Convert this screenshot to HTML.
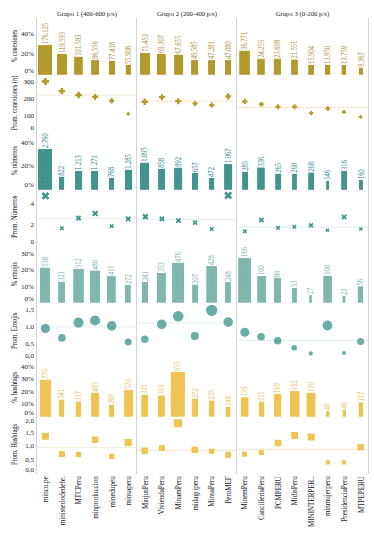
<!DOCTYPE html>
<html><head><meta charset="utf-8"><style>
html,body{margin:0;padding:0;background:#fff;width:374px;height:538px;overflow:hidden}
svg{display:block;font-family:'Liberation Serif', serif}
.tx{fill:#1a1a2c}
.tx2{fill:#141428}
</style></head><body>
<svg width="374" height="538" viewBox="0 0 374 538">
<defs>
<pattern id="pg" width="4" height="4" patternUnits="userSpaceOnUse"><rect x="1" y="1" width="1" height="1" fill="#a08a28" opacity="0.5"/></pattern>
<pattern id="pt" width="5" height="5" patternUnits="userSpaceOnUse"><rect x="2" y="2" width="1" height="1" fill="#2f7f7a" opacity="0.6"/></pattern>
<pattern id="plt" width="5" height="5" patternUnits="userSpaceOnUse"><rect x="2" y="2" width="1" height="1" fill="#6a9fb0" opacity="0.6"/></pattern>
<pattern id="py" width="2.5" height="2.5" patternUnits="userSpaceOnUse" patternTransform="rotate(45)"><rect x="0" y="0" width="0.8" height="2.5" fill="#f2dc6a" opacity="0.35"/></pattern>
</defs>
<g stroke="#d4d4d4" stroke-width="1">
<line x1="36.5" y1="18" x2="36.5" y2="474"/>
<line x1="136.5" y1="18" x2="136.5" y2="474"/>
<line x1="236.5" y1="18" x2="236.5" y2="474"/>
<line x1="368.5" y1="18" x2="368.5" y2="474"/>
</g>
<text x="86.9" y="16.3" font-size="7" text-anchor="middle" textLength="60" lengthAdjust="spacingAndGlyphs" class="tx">Grupo 1 (400-600 p/s)</text>
<text x="186.9" y="16.3" font-size="7" text-anchor="middle" textLength="60" lengthAdjust="spacingAndGlyphs" class="tx">Grupo 2 (200-400 p/s)</text>
<text x="302.4" y="16.3" font-size="7" text-anchor="middle" textLength="53.5" lengthAdjust="spacingAndGlyphs" class="tx">Grupo 3 (0-200 p/s)</text>
<text transform="translate(17.3,46.0) rotate(-90)" font-size="8" text-anchor="middle" textLength="32.5" lengthAdjust="spacingAndGlyphs" class="tx2">% conexiones</text>
<text transform="translate(17.3,103.0) rotate(-90)" font-size="8" text-anchor="middle" textLength="54.5" lengthAdjust="spacingAndGlyphs" class="tx2">Prom. conexiones (π)</text>
<text transform="translate(17.3,160.5) rotate(-90)" font-size="8" text-anchor="middle" textLength="29.2" lengthAdjust="spacingAndGlyphs" class="tx2">% números</text>
<text transform="translate(17.3,216.8) rotate(-90)" font-size="8" text-anchor="middle" textLength="42.5" lengthAdjust="spacingAndGlyphs" class="tx2">Prom. Números</text>
<text transform="translate(17.3,274.1) rotate(-90)" font-size="8" text-anchor="middle" textLength="24.5" lengthAdjust="spacingAndGlyphs" class="tx2">% emojis</text>
<text transform="translate(17.3,330.7) rotate(-90)" font-size="8" text-anchor="middle" textLength="36.5" lengthAdjust="spacingAndGlyphs" class="tx2">Prom. Emojis</text>
<text transform="translate(17.3,387.4) rotate(-90)" font-size="8" text-anchor="middle" textLength="30.5" lengthAdjust="spacingAndGlyphs" class="tx2">% hashtags</text>
<text transform="translate(17.3,444.5) rotate(-90)" font-size="8" text-anchor="middle" textLength="41.2" lengthAdjust="spacingAndGlyphs" class="tx2">Prom. Hashtags</text>
<text x="33.9" y="36.3" font-size="7" text-anchor="end" class="tx">40%</text>
<text x="33.9" y="55.9" font-size="7" text-anchor="end" class="tx">20%</text>
<text x="33.9" y="73.3" font-size="7" text-anchor="end" class="tx">0%</text>
<text x="33.9" y="84.1" font-size="7" text-anchor="end" class="tx">300</text>
<text x="33.9" y="101.0" font-size="7" text-anchor="end" class="tx">200</text>
<text x="33.9" y="117.8" font-size="7" text-anchor="end" class="tx">100</text>
<text x="33.9" y="129.8" font-size="7" text-anchor="end" class="tx">0</text>
<text x="33.9" y="145.3" font-size="7" text-anchor="end" class="tx">40%</text>
<text x="33.9" y="168.4" font-size="7" text-anchor="end" class="tx">20%</text>
<text x="33.9" y="187.10000000000002" font-size="7" text-anchor="end" class="tx">0%</text>
<text x="33.9" y="206.3" font-size="7" text-anchor="end" class="tx">4</text>
<text x="33.9" y="227.10000000000002" font-size="7" text-anchor="end" class="tx">2</text>
<text x="33.9" y="243.8" font-size="7" text-anchor="end" class="tx">0</text>
<text x="33.9" y="256.3" font-size="7" text-anchor="end" class="tx">30%</text>
<text x="33.9" y="272.40000000000003" font-size="7" text-anchor="end" class="tx">20%</text>
<text x="33.9" y="288.7" font-size="7" text-anchor="end" class="tx">10%</text>
<text x="33.9" y="301.1" font-size="7" text-anchor="end" class="tx">0%</text>
<text x="33.9" y="312.3" font-size="7" text-anchor="end" class="tx">1,5</text>
<text x="33.9" y="329.0" font-size="7" text-anchor="end" class="tx">1,0</text>
<text x="33.9" y="345.7" font-size="7" text-anchor="end" class="tx">0,5</text>
<text x="33.9" y="357.8" font-size="7" text-anchor="end" class="tx">0,0</text>
<text x="33.9" y="368.7" font-size="7" text-anchor="end" class="tx">40%</text>
<text x="33.9" y="380.7" font-size="7" text-anchor="end" class="tx">30%</text>
<text x="33.9" y="393.7" font-size="7" text-anchor="end" class="tx">20%</text>
<text x="33.9" y="406.1" font-size="7" text-anchor="end" class="tx">10%</text>
<text x="33.9" y="415.1" font-size="7" text-anchor="end" class="tx">0%</text>
<text x="33.9" y="423.0" font-size="7" text-anchor="end" class="tx">2,0</text>
<text x="33.9" y="434.6" font-size="7" text-anchor="end" class="tx">1,5</text>
<text x="33.9" y="447.7" font-size="7" text-anchor="end" class="tx">1,0</text>
<text x="33.9" y="461.8" font-size="7" text-anchor="end" class="tx">0,5</text>
<text x="33.9" y="472.1" font-size="7" text-anchor="end" class="tx">0,0</text>
<rect x="38.0" y="45.1" width="14.00" height="29.70" fill="#b29a2c"/>
<rect x="38.0" y="45.1" width="14.00" height="29.70" fill="url(#pg)"/>
<text transform="translate(47.60,44.10) rotate(-90) scale(0.86,1)" font-size="7.6" fill="#ab9040" stroke="#ab9040" stroke-width="0.04">176.125</text>
<rect x="57.0" y="54.0" width="10.00" height="20.80" fill="#b29a2c"/>
<rect x="57.0" y="54.0" width="10.00" height="20.80" fill="url(#pg)"/>
<text transform="translate(64.60,53.00) rotate(-90) scale(0.86,1)" font-size="7.6" fill="#ab9040" stroke="#ab9040" stroke-width="0.04">119.593</text>
<rect x="74.1" y="56.8" width="8.70" height="18.00" fill="#b29a2c"/>
<rect x="74.1" y="56.8" width="8.70" height="18.00" fill="url(#pg)"/>
<text transform="translate(81.05,55.80) rotate(-90) scale(0.86,1)" font-size="7.6" fill="#ab9040" stroke="#ab9040" stroke-width="0.04">101.583</text>
<rect x="91.1" y="60.1" width="7.90" height="14.70" fill="#b29a2c"/>
<rect x="91.1" y="60.1" width="7.90" height="14.70" fill="url(#pg)"/>
<text transform="translate(97.65,59.10) rotate(-90) scale(0.86,1)" font-size="7.6" fill="#ab9040" stroke="#ab9040" stroke-width="0.04">86.556</text>
<rect x="109.0" y="61.0" width="6.00" height="13.80" fill="#b29a2c"/>
<rect x="109.0" y="61.0" width="6.00" height="13.80" fill="url(#pg)"/>
<text transform="translate(114.60,60.00) rotate(-90) scale(0.86,1)" font-size="7.6" fill="#ab9040" stroke="#ab9040" stroke-width="0.04">77.418</text>
<rect x="125.8" y="64.9" width="5.10" height="9.90" fill="#b29a2c"/>
<rect x="125.8" y="64.9" width="5.10" height="9.90" fill="url(#pg)"/>
<text transform="translate(130.95,63.90) rotate(-90) scale(0.86,1)" font-size="7.6" fill="#ab9040" stroke="#ab9040" stroke-width="0.04">55.908</text>
<rect x="140.0" y="53.0" width="10.00" height="21.80" fill="#b29a2c"/>
<rect x="140.0" y="53.0" width="10.00" height="21.80" fill="url(#pg)"/>
<text transform="translate(147.60,52.00) rotate(-90) scale(0.86,1)" font-size="7.6" fill="#ab9040" stroke="#ab9040" stroke-width="0.04">71.453</text>
<rect x="157.0" y="54.0" width="8.80" height="20.80" fill="#b29a2c"/>
<rect x="157.0" y="54.0" width="8.80" height="20.80" fill="url(#pg)"/>
<text transform="translate(164.00,53.00) rotate(-90) scale(0.86,1)" font-size="7.6" fill="#ab9040" stroke="#ab9040" stroke-width="0.04">69.307</text>
<rect x="174.1" y="54.8" width="9.00" height="20.00" fill="#b29a2c"/>
<rect x="174.1" y="54.8" width="9.00" height="20.00" fill="url(#pg)"/>
<text transform="translate(181.20,53.80) rotate(-90) scale(0.86,1)" font-size="7.6" fill="#ab9040" stroke="#ab9040" stroke-width="0.04">67.655</text>
<rect x="191.1" y="60.1" width="6.90" height="14.70" fill="#b29a2c"/>
<rect x="191.1" y="60.1" width="6.90" height="14.70" fill="url(#pg)"/>
<text transform="translate(197.15,59.10) rotate(-90) scale(0.86,1)" font-size="7.6" fill="#ab9040" stroke="#ab9040" stroke-width="0.04">49.585</text>
<rect x="208.1" y="60.1" width="6.90" height="14.70" fill="#b29a2c"/>
<rect x="208.1" y="60.1" width="6.90" height="14.70" fill="url(#pg)"/>
<text transform="translate(214.15,59.10) rotate(-90) scale(0.86,1)" font-size="7.6" fill="#ab9040" stroke="#ab9040" stroke-width="0.04">47.281</text>
<rect x="225.0" y="60.1" width="6.10" height="14.70" fill="#b29a2c"/>
<rect x="225.0" y="60.1" width="6.10" height="14.70" fill="url(#pg)"/>
<text transform="translate(230.65,59.10) rotate(-90) scale(0.86,1)" font-size="7.6" fill="#ab9040" stroke="#ab9040" stroke-width="0.04">47.080</text>
<rect x="239.2" y="50.8" width="10.60" height="24.00" fill="#b29a2c"/>
<rect x="239.2" y="50.8" width="10.60" height="24.00" fill="url(#pg)"/>
<text transform="translate(247.10,49.80) rotate(-90) scale(0.86,1)" font-size="7.6" fill="#ab9040" stroke="#ab9040" stroke-width="0.04">36.771</text>
<rect x="257.2" y="58.8" width="7.60" height="16.00" fill="#b29a2c"/>
<rect x="257.2" y="58.8" width="7.60" height="16.00" fill="url(#pg)"/>
<text transform="translate(263.60,57.80) rotate(-90) scale(0.86,1)" font-size="7.6" fill="#ab9040" stroke="#ab9040" stroke-width="0.04">24.255</text>
<rect x="273.9" y="58.8" width="7.10" height="16.00" fill="#b29a2c"/>
<rect x="273.9" y="58.8" width="7.10" height="16.00" fill="url(#pg)"/>
<text transform="translate(280.05,57.80) rotate(-90) scale(0.86,1)" font-size="7.6" fill="#ab9040" stroke="#ab9040" stroke-width="0.04">23.698</text>
<rect x="291.1" y="59.6" width="6.70" height="15.20" fill="#b29a2c"/>
<rect x="291.1" y="59.6" width="6.70" height="15.20" fill="url(#pg)"/>
<text transform="translate(297.05,58.60) rotate(-90) scale(0.86,1)" font-size="7.6" fill="#ab9040" stroke="#ab9040" stroke-width="0.04">21.551</text>
<rect x="308.2" y="64.9" width="5.80" height="9.90" fill="#b29a2c"/>
<rect x="308.2" y="64.9" width="5.80" height="9.90" fill="url(#pg)"/>
<text transform="translate(313.70,63.90) rotate(-90) scale(0.86,1)" font-size="7.6" fill="#ab9040" stroke="#ab9040" stroke-width="0.04">15.904</text>
<rect x="325.0" y="64.9" width="5.20" height="9.90" fill="#b29a2c"/>
<rect x="325.0" y="64.9" width="5.20" height="9.90" fill="url(#pg)"/>
<text transform="translate(330.20,63.90) rotate(-90) scale(0.86,1)" font-size="7.6" fill="#ab9040" stroke="#ab9040" stroke-width="0.04">13.950</text>
<rect x="341.7" y="64.9" width="4.40" height="9.90" fill="#b29a2c"/>
<rect x="341.7" y="64.9" width="4.40" height="9.90" fill="url(#pg)"/>
<text transform="translate(346.50,63.90) rotate(-90) scale(0.86,1)" font-size="7.6" fill="#ab9040" stroke="#ab9040" stroke-width="0.04">13.759</text>
<rect x="359.0" y="67.9" width="3.90" height="6.90" fill="#b29a2c"/>
<rect x="359.0" y="67.9" width="3.90" height="6.90" fill="url(#pg)"/>
<text transform="translate(363.55,66.90) rotate(-90) scale(0.86,1)" font-size="7.6" fill="#ab9040" stroke="#ab9040" stroke-width="0.04">9.367</text>
<line x1="37.6" y1="95.2" x2="135.9" y2="95.2" stroke="#e8e3c4" stroke-width="0.7"/>
<line x1="137.4" y1="101.2" x2="235.9" y2="101.2" stroke="#f0cc98" stroke-width="0.7" stroke-dasharray="3,1"/>
<line x1="237.4" y1="107.4" x2="367.9" y2="107.4" stroke="#f0cc98" stroke-width="0.7" stroke-dasharray="3,1"/>
<path d="M42.00,80.07h2.17v-2.17h2.66v2.17h2.17v2.66h-2.17v2.17h-2.66v-2.17h-2.17z" fill="#b29a2c"/>
<path d="M58.70,89.88h1.98v-1.98h2.43v1.98h1.98v2.43h-1.98v1.98h-2.43v-1.98h-1.98z" fill="#b29a2c"/>
<path d="M75.35,93.77h2.01v-2.01h2.47v2.01h2.01v2.47h-2.01v2.01h-2.47v-2.01h-2.01z" fill="#b29a2c"/>
<path d="M92.10,95.76h1.86v-1.86h2.28v1.86h1.86v2.28h-1.86v1.86h-2.28v-1.86h-1.86z" fill="#b29a2c"/>
<path d="M108.95,99.66h1.71v-1.71h2.09v1.71h1.71v2.09h-1.71v1.71h-2.09v-1.71h-1.71z" fill="#b29a2c"/>
<path d="M126.20,113.04h1.24v-1.24h1.52v1.24h1.24v1.52h-1.24v1.24h-1.52v-1.24h-1.24z" fill="#b29a2c"/>
<path d="M141.60,100.48h1.98v-1.98h2.43v1.98h1.98v2.43h-1.98v1.98h-2.43v-1.98h-1.98z" fill="#b29a2c"/>
<path d="M158.90,96.06h1.86v-1.86h2.28v1.86h1.86v2.28h-1.86v1.86h-2.28v-1.86h-1.86z" fill="#b29a2c"/>
<path d="M175.20,100.06h1.86v-1.86h2.28v1.86h1.86v2.28h-1.86v1.86h-2.28v-1.86h-1.86z" fill="#b29a2c"/>
<path d="M192.45,102.59h1.64v-1.64h2.01v1.64h1.64v2.01h-1.64v1.64h-2.01v-1.64h-1.64z" fill="#b29a2c"/>
<path d="M209.05,104.19h1.64v-1.64h2.01v1.64h1.64v2.01h-1.64v1.64h-2.01v-1.64h-1.64z" fill="#b29a2c"/>
<path d="M225.20,95.26h1.86v-1.86h2.28v1.86h1.86v2.28h-1.86v1.86h-2.28v-1.86h-1.86z" fill="#b29a2c"/>
<path d="M242.05,100.45h1.71v-1.71h2.09v1.71h1.71v2.09h-1.71v1.71h-2.09v-1.71h-1.71z" fill="#b29a2c"/>
<path d="M258.90,103.35h1.55v-1.55h1.90v1.55h1.55v1.90h-1.55v1.55h-1.90v-1.55h-1.55z" fill="#b29a2c"/>
<path d="M275.50,105.85h1.55v-1.55h1.90v1.55h1.55v1.90h-1.55v1.55h-1.90v-1.55h-1.55z" fill="#b29a2c"/>
<path d="M292.10,105.85h1.55v-1.55h1.90v1.55h1.55v1.90h-1.55v1.55h-1.90v-1.55h-1.55z" fill="#b29a2c"/>
<path d="M308.95,112.24h1.40v-1.40h1.71v1.40h1.40v1.71h-1.40v1.40h-1.71v-1.40h-1.40z" fill="#b29a2c"/>
<path d="M325.30,107.55h1.55v-1.55h1.90v1.55h1.55v1.90h-1.55v1.55h-1.90v-1.55h-1.55z" fill="#b29a2c"/>
<path d="M341.75,111.24h1.40v-1.40h1.71v1.40h1.40v1.71h-1.40v1.40h-1.71v-1.40h-1.40z" fill="#b29a2c"/>
<path d="M358.60,115.94h1.24v-1.24h1.52v1.24h1.24v1.52h-1.24v1.24h-1.52v-1.24h-1.24z" fill="#b29a2c"/>
<rect x="38.0" y="149.0" width="14.00" height="40.80" fill="#43948c"/>
<rect x="38.0" y="149.0" width="14.00" height="40.80" fill="url(#pt)"/>
<text transform="translate(47.60,148.00) rotate(-90) scale(0.86,1)" font-size="7.6" fill="#35888e" stroke="#35888e" stroke-width="0.04">2.760</text>
<rect x="59.0" y="176.8" width="5.10" height="13.00" fill="#43948c"/>
<rect x="59.0" y="176.8" width="5.10" height="13.00" fill="url(#pt)"/>
<text transform="translate(64.15,175.80) rotate(-90) scale(0.86,1)" font-size="7.6" fill="#35888e" stroke="#35888e" stroke-width="0.04">822</text>
<rect x="75.0" y="171.0" width="7.10" height="18.80" fill="#43948c"/>
<rect x="75.0" y="171.0" width="7.10" height="18.80" fill="url(#pt)"/>
<text transform="translate(81.15,170.00) rotate(-90) scale(0.86,1)" font-size="7.6" fill="#35888e" stroke="#35888e" stroke-width="0.04">1.213</text>
<rect x="91.1" y="171.0" width="6.90" height="18.80" fill="#43948c"/>
<rect x="91.1" y="171.0" width="6.90" height="18.80" fill="url(#pt)"/>
<text transform="translate(97.15,170.00) rotate(-90) scale(0.86,1)" font-size="7.6" fill="#35888e" stroke="#35888e" stroke-width="0.04">1.271</text>
<rect x="109.0" y="177.9" width="5.10" height="11.90" fill="#43948c"/>
<rect x="109.0" y="177.9" width="5.10" height="11.90" fill="url(#pt)"/>
<text transform="translate(114.15,176.90) rotate(-90) scale(0.86,1)" font-size="7.6" fill="#35888e" stroke="#35888e" stroke-width="0.04">768</text>
<rect x="125.0" y="169.8" width="7.10" height="20.00" fill="#43948c"/>
<rect x="125.0" y="169.8" width="7.10" height="20.00" fill="url(#pt)"/>
<text transform="translate(131.15,168.80) rotate(-90) scale(0.86,1)" font-size="7.6" fill="#35888e" stroke="#35888e" stroke-width="0.04">1.285</text>
<rect x="140.0" y="162.8" width="9.00" height="27.00" fill="#43948c"/>
<rect x="140.0" y="162.8" width="9.00" height="27.00" fill="url(#pt)"/>
<text transform="translate(147.10,161.80) rotate(-90) scale(0.86,1)" font-size="7.6" fill="#35888e" stroke="#35888e" stroke-width="0.04">1.095</text>
<rect x="158.1" y="168.8" width="6.90" height="21.00" fill="#43948c"/>
<rect x="158.1" y="168.8" width="6.90" height="21.00" fill="url(#pt)"/>
<text transform="translate(164.15,167.80) rotate(-90) scale(0.86,1)" font-size="7.6" fill="#35888e" stroke="#35888e" stroke-width="0.04">858</text>
<rect x="174.1" y="167.8" width="8.00" height="22.00" fill="#43948c"/>
<rect x="174.1" y="167.8" width="8.00" height="22.00" fill="url(#pt)"/>
<text transform="translate(180.70,166.80) rotate(-90) scale(0.86,1)" font-size="7.6" fill="#35888e" stroke="#35888e" stroke-width="0.04">892</text>
<rect x="192.0" y="173.0" width="6.00" height="16.80" fill="#43948c"/>
<rect x="192.0" y="173.0" width="6.00" height="16.80" fill="url(#pt)"/>
<text transform="translate(197.60,172.00) rotate(-90) scale(0.86,1)" font-size="7.6" fill="#35888e" stroke="#35888e" stroke-width="0.04">657</text>
<rect x="209.0" y="177.9" width="5.10" height="11.90" fill="#43948c"/>
<rect x="209.0" y="177.9" width="5.10" height="11.90" fill="url(#pt)"/>
<text transform="translate(214.15,176.90) rotate(-90) scale(0.86,1)" font-size="7.6" fill="#35888e" stroke="#35888e" stroke-width="0.04">472</text>
<rect x="224.1" y="164.1" width="8.00" height="25.70" fill="#43948c"/>
<rect x="224.1" y="164.1" width="8.00" height="25.70" fill="url(#pt)"/>
<text transform="translate(230.70,163.10) rotate(-90) scale(0.86,1)" font-size="7.6" fill="#35888e" stroke="#35888e" stroke-width="0.04">1.067</text>
<rect x="242.2" y="171.8" width="5.80" height="18.00" fill="#43948c"/>
<rect x="242.2" y="171.8" width="5.80" height="18.00" fill="url(#pt)"/>
<text transform="translate(247.70,170.80) rotate(-90) scale(0.86,1)" font-size="7.6" fill="#35888e" stroke="#35888e" stroke-width="0.04">285</text>
<rect x="257.2" y="167.6" width="7.60" height="22.20" fill="#43948c"/>
<rect x="257.2" y="167.6" width="7.60" height="22.20" fill="url(#pt)"/>
<text transform="translate(263.60,166.60) rotate(-90) scale(0.86,1)" font-size="7.6" fill="#35888e" stroke="#35888e" stroke-width="0.04">336</text>
<rect x="275.2" y="173.8" width="5.80" height="16.00" fill="#43948c"/>
<rect x="275.2" y="173.8" width="5.80" height="16.00" fill="url(#pt)"/>
<text transform="translate(280.70,172.80) rotate(-90) scale(0.86,1)" font-size="7.6" fill="#35888e" stroke="#35888e" stroke-width="0.04">265</text>
<rect x="292.1" y="173.8" width="4.80" height="16.00" fill="#43948c"/>
<rect x="292.1" y="173.8" width="4.80" height="16.00" fill="url(#pt)"/>
<text transform="translate(297.10,172.80) rotate(-90) scale(0.86,1)" font-size="7.6" fill="#35888e" stroke="#35888e" stroke-width="0.04">260</text>
<rect x="308.2" y="172.7" width="5.80" height="17.10" fill="#43948c"/>
<rect x="308.2" y="172.7" width="5.80" height="17.10" fill="url(#pt)"/>
<text transform="translate(313.70,171.70) rotate(-90) scale(0.86,1)" font-size="7.6" fill="#35888e" stroke="#35888e" stroke-width="0.04">268</text>
<rect x="326.2" y="180.8" width="2.80" height="9.00" fill="#43948c"/>
<rect x="326.2" y="180.8" width="2.80" height="9.00" fill="url(#pt)"/>
<text transform="translate(330.20,179.80) rotate(-90) scale(0.86,1)" font-size="7.6" fill="#35888e" stroke="#35888e" stroke-width="0.04">146</text>
<rect x="341.2" y="170.9" width="5.80" height="18.90" fill="#43948c"/>
<rect x="341.2" y="170.9" width="5.80" height="18.90" fill="url(#pt)"/>
<text transform="translate(346.70,169.90) rotate(-90) scale(0.86,1)" font-size="7.6" fill="#35888e" stroke="#35888e" stroke-width="0.04">316</text>
<rect x="359.0" y="180.0" width="3.90" height="9.80" fill="#43948c"/>
<rect x="359.0" y="180.0" width="3.90" height="9.80" fill="url(#pt)"/>
<text transform="translate(363.55,179.00) rotate(-90) scale(0.86,1)" font-size="7.6" fill="#35888e" stroke="#35888e" stroke-width="0.04">160</text>
<line x1="37.6" y1="218.3" x2="135.9" y2="218.3" stroke="#bfe0dc" stroke-width="0.7" stroke-dasharray="2,1"/>
<line x1="137.4" y1="219.4" x2="235.9" y2="219.4" stroke="#bfe0dc" stroke-width="0.7" stroke-dasharray="2,1"/>
<line x1="237.4" y1="227.1" x2="367.9" y2="227.1" stroke="#c8e6e2" stroke-width="0.7"/>
<path transform="rotate(45 45.4 195.9)" d="M41.13,194.57h2.94v-2.94h2.66v2.94h2.94v2.66h-2.94v2.94h-2.66v-2.94h-2.94z" fill="#3f958f"/>
<path transform="rotate(45 61.9 228.2)" d="M59.46,227.44h1.68v-1.68h1.52v1.68h1.68v1.52h-1.68v1.68h-1.52v-1.68h-1.68z" fill="#3f958f"/>
<path transform="rotate(45 78.5 218.1)" d="M75.45,217.15h2.10v-2.10h1.90v2.10h2.10v1.90h-2.10v2.10h-1.90v-2.10h-2.10z" fill="#3f958f"/>
<path transform="rotate(45 95.1 213.5)" d="M91.74,212.46h2.31v-2.31h2.09v2.31h2.31v2.09h-2.31v2.31h-2.09v-2.31h-2.31z" fill="#3f958f"/>
<path transform="rotate(45 111.7 226.1)" d="M109.26,225.34h1.68v-1.68h1.52v1.68h1.68v1.52h-1.68v1.68h-1.52v-1.68h-1.68z" fill="#3f958f"/>
<path transform="rotate(45 128.2 218.9)" d="M125.15,217.95h2.10v-2.10h1.90v2.10h2.10v1.90h-2.10v2.10h-1.90v-2.10h-2.10z" fill="#3f958f"/>
<path transform="rotate(45 145.4 216.7)" d="M142.05,215.66h2.31v-2.31h2.09v2.31h2.31v2.09h-2.31v2.31h-2.09v-2.31h-2.31z" fill="#3f958f"/>
<path transform="rotate(45 161.9 218.9)" d="M158.85,217.95h2.10v-2.10h1.90v2.10h2.10v1.90h-2.10v2.10h-1.90v-2.10h-2.10z" fill="#3f958f"/>
<path transform="rotate(45 178.5 220.5)" d="M175.45,219.55h2.10v-2.10h1.90v2.10h2.10v1.90h-2.10v2.10h-1.90v-2.10h-2.10z" fill="#3f958f"/>
<path transform="rotate(45 195.1 222.6)" d="M192.35,221.75h1.89v-1.89h1.71v1.89h1.89v1.71h-1.89v1.89h-1.71v-1.89h-1.89z" fill="#3f958f"/>
<path transform="rotate(45 211.7 229.0)" d="M209.26,228.24h1.68v-1.68h1.52v1.68h1.68v1.52h-1.68v1.68h-1.52v-1.68h-1.68z" fill="#3f958f"/>
<path transform="rotate(45 228.2 195.3)" d="M223.93,193.97h2.94v-2.94h2.66v2.94h2.94v2.66h-2.94v2.94h-2.66v-2.94h-2.94z" fill="#3f958f"/>
<path transform="rotate(45 244.8 231.3)" d="M242.36,230.54h1.68v-1.68h1.52v1.68h1.68v1.52h-1.68v1.68h-1.52v-1.68h-1.68z" fill="#3f958f"/>
<path transform="rotate(45 261.4 220.0)" d="M258.35,219.05h2.10v-2.10h1.90v2.10h2.10v1.90h-2.10v2.10h-1.90v-2.10h-2.10z" fill="#3f958f"/>
<path transform="rotate(45 278.0 227.8)" d="M275.56,227.04h1.68v-1.68h1.52v1.68h1.68v1.52h-1.68v1.68h-1.52v-1.68h-1.68z" fill="#3f958f"/>
<path transform="rotate(45 294.4 226.8)" d="M291.96,226.04h1.68v-1.68h1.52v1.68h1.68v1.52h-1.68v1.68h-1.52v-1.68h-1.68z" fill="#3f958f"/>
<path transform="rotate(45 311.0 225.4)" d="M308.25,224.55h1.89v-1.89h1.71v1.89h1.89v1.71h-1.89v1.89h-1.71v-1.89h-1.89z" fill="#3f958f"/>
<path transform="rotate(45 327.5 230.3)" d="M325.37,229.64h1.47v-1.47h1.33v1.47h1.47v1.33h-1.47v1.47h-1.33v-1.47h-1.47z" fill="#3f958f"/>
<path transform="rotate(45 344.1 217.0)" d="M341.05,216.05h2.10v-2.10h1.90v2.10h2.10v1.90h-2.10v2.10h-1.90v-2.10h-2.10z" fill="#3f958f"/>
<path transform="rotate(45 360.8 228.9)" d="M358.67,228.24h1.47v-1.47h1.33v1.47h1.47v1.33h-1.47v1.47h-1.33v-1.47h-1.47z" fill="#3f958f"/>
<rect x="40.0" y="267.8" width="10.00" height="34.90" fill="#80b8ad"/>
<rect x="40.0" y="267.8" width="10.00" height="34.90" fill="url(#plt)"/>
<text transform="translate(47.60,266.80) rotate(-90) scale(0.86,1)" font-size="7.6" fill="#78b2b0" stroke="#78b2b0" stroke-width="0.04">538</text>
<rect x="58.1" y="281.8" width="6.90" height="20.90" fill="#80b8ad"/>
<rect x="58.1" y="281.8" width="6.90" height="20.90" fill="url(#plt)"/>
<text transform="translate(64.15,280.80) rotate(-90) scale(0.86,1)" font-size="7.6" fill="#78b2b0" stroke="#78b2b0" stroke-width="0.04">321</text>
<rect x="73.2" y="269.0" width="10.70" height="33.70" fill="#80b8ad"/>
<rect x="73.2" y="269.0" width="10.70" height="33.70" fill="url(#plt)"/>
<text transform="translate(81.15,268.00) rotate(-90) scale(0.86,1)" font-size="7.6" fill="#78b2b0" stroke="#78b2b0" stroke-width="0.04">512</text>
<rect x="90.0" y="270.7" width="10.00" height="32.00" fill="#80b8ad"/>
<rect x="90.0" y="270.7" width="10.00" height="32.00" fill="url(#plt)"/>
<text transform="translate(97.60,269.70) rotate(-90) scale(0.86,1)" font-size="7.6" fill="#78b2b0" stroke="#78b2b0" stroke-width="0.04">480</text>
<rect x="107.0" y="276.1" width="8.80" height="26.60" fill="#80b8ad"/>
<rect x="107.0" y="276.1" width="8.80" height="26.60" fill="url(#plt)"/>
<text transform="translate(114.00,275.10) rotate(-90) scale(0.86,1)" font-size="7.6" fill="#78b2b0" stroke="#78b2b0" stroke-width="0.04">411</text>
<rect x="125.0" y="285.0" width="5.80" height="17.70" fill="#80b8ad"/>
<rect x="125.0" y="285.0" width="5.80" height="17.70" fill="url(#plt)"/>
<text transform="translate(130.50,284.00) rotate(-90) scale(0.86,1)" font-size="7.6" fill="#78b2b0" stroke="#78b2b0" stroke-width="0.04">272</text>
<rect x="141.9" y="282.1" width="6.10" height="20.60" fill="#80b8ad"/>
<rect x="141.9" y="282.1" width="6.10" height="20.60" fill="url(#plt)"/>
<text transform="translate(147.55,281.10) rotate(-90) scale(0.86,1)" font-size="7.6" fill="#78b2b0" stroke="#78b2b0" stroke-width="0.04">241</text>
<rect x="156.9" y="273.0" width="9.00" height="29.70" fill="#80b8ad"/>
<rect x="156.9" y="273.0" width="9.00" height="29.70" fill="url(#plt)"/>
<text transform="translate(164.00,272.00) rotate(-90) scale(0.86,1)" font-size="7.6" fill="#78b2b0" stroke="#78b2b0" stroke-width="0.04">353</text>
<rect x="172.1" y="262.8" width="12.00" height="39.90" fill="#80b8ad"/>
<rect x="172.1" y="262.8" width="12.00" height="39.90" fill="url(#plt)"/>
<text transform="translate(180.70,261.80) rotate(-90) scale(0.86,1)" font-size="7.6" fill="#78b2b0" stroke="#78b2b0" stroke-width="0.04">476</text>
<rect x="192.1" y="284.8" width="5.90" height="17.90" fill="#80b8ad"/>
<rect x="192.1" y="284.8" width="5.90" height="17.90" fill="url(#plt)"/>
<text transform="translate(197.65,283.80) rotate(-90) scale(0.86,1)" font-size="7.6" fill="#78b2b0" stroke="#78b2b0" stroke-width="0.04">207</text>
<rect x="206.3" y="266.0" width="10.70" height="36.70" fill="#80b8ad"/>
<rect x="206.3" y="266.0" width="10.70" height="36.70" fill="url(#plt)"/>
<text transform="translate(214.25,265.00) rotate(-90) scale(0.86,1)" font-size="7.6" fill="#78b2b0" stroke="#78b2b0" stroke-width="0.04">428</text>
<rect x="225.0" y="282.1" width="5.90" height="20.60" fill="#80b8ad"/>
<rect x="225.0" y="282.1" width="5.90" height="20.60" fill="url(#plt)"/>
<text transform="translate(230.55,281.10) rotate(-90) scale(0.86,1)" font-size="7.6" fill="#78b2b0" stroke="#78b2b0" stroke-width="0.04">248</text>
<rect x="238.1" y="257.9" width="12.90" height="44.80" fill="#80b8ad"/>
<rect x="238.1" y="257.9" width="12.90" height="44.80" fill="url(#plt)"/>
<text transform="translate(247.15,256.90) rotate(-90) scale(0.86,1)" font-size="7.6" fill="#78b2b0" stroke="#78b2b0" stroke-width="0.04">166</text>
<rect x="257.2" y="276.1" width="8.80" height="26.60" fill="#80b8ad"/>
<rect x="257.2" y="276.1" width="8.80" height="26.60" fill="url(#plt)"/>
<text transform="translate(264.20,275.10) rotate(-90) scale(0.86,1)" font-size="7.6" fill="#78b2b0" stroke="#78b2b0" stroke-width="0.04">100</text>
<rect x="273.9" y="277.9" width="7.10" height="24.80" fill="#80b8ad"/>
<rect x="273.9" y="277.9" width="7.10" height="24.80" fill="url(#plt)"/>
<text transform="translate(280.05,276.90) rotate(-90) scale(0.86,1)" font-size="7.6" fill="#78b2b0" stroke="#78b2b0" stroke-width="0.04">89</text>
<rect x="292.1" y="287.9" width="4.80" height="14.80" fill="#80b8ad"/>
<rect x="292.1" y="287.9" width="4.80" height="14.80" fill="url(#plt)"/>
<text transform="translate(297.10,286.90) rotate(-90) scale(0.86,1)" font-size="7.6" fill="#78b2b0" stroke="#78b2b0" stroke-width="0.04">53</text>
<rect x="309.1" y="295.2" width="2.80" height="7.50" fill="#80b8ad"/>
<rect x="309.1" y="295.2" width="2.80" height="7.50" fill="url(#plt)"/>
<text transform="translate(313.10,294.20) rotate(-90) scale(0.86,1)" font-size="7.6" fill="#78b2b0" stroke="#78b2b0" stroke-width="0.04">27</text>
<rect x="323.2" y="275.8" width="8.80" height="26.90" fill="#80b8ad"/>
<rect x="323.2" y="275.8" width="8.80" height="26.90" fill="url(#plt)"/>
<text transform="translate(330.20,274.80) rotate(-90) scale(0.86,1)" font-size="7.6" fill="#78b2b0" stroke="#78b2b0" stroke-width="0.04">100</text>
<rect x="342.6" y="295.9" width="2.80" height="6.80" fill="#80b8ad"/>
<rect x="342.6" y="295.9" width="2.80" height="6.80" fill="url(#plt)"/>
<text transform="translate(346.60,294.90) rotate(-90) scale(0.86,1)" font-size="7.6" fill="#78b2b0" stroke="#78b2b0" stroke-width="0.04">23</text>
<rect x="357.8" y="286.4" width="5.30" height="16.30" fill="#80b8ad"/>
<rect x="357.8" y="286.4" width="5.30" height="16.30" fill="url(#plt)"/>
<text transform="translate(363.05,285.40) rotate(-90) scale(0.86,1)" font-size="7.6" fill="#78b2b0" stroke="#78b2b0" stroke-width="0.04">56</text>
<line x1="37.6" y1="326.9" x2="135.9" y2="326.9" stroke="#bfe0dc" stroke-width="0.7" stroke-dasharray="2,1"/>
<line x1="137.4" y1="322.9" x2="235.9" y2="322.9" stroke="#bfe0dc" stroke-width="0.7" stroke-dasharray="2,1"/>
<line x1="237.4" y1="340.3" x2="367.9" y2="340.3" stroke="#c8e6e2" stroke-width="0.7"/>
<circle cx="45.4" cy="328.5" r="4.60" fill="#68aea7"/>
<circle cx="61.9" cy="337.9" r="3.80" fill="#68aea7"/>
<circle cx="78.5" cy="322.6" r="5.10" fill="#68aea7"/>
<circle cx="95.1" cy="320.5" r="5.10" fill="#68aea7"/>
<circle cx="111.7" cy="325.9" r="4.80" fill="#68aea7"/>
<circle cx="128.2" cy="341.9" r="3.50" fill="#68aea7"/>
<circle cx="144.8" cy="339.2" r="3.80" fill="#68aea7"/>
<circle cx="161.7" cy="324.3" r="4.80" fill="#68aea7"/>
<circle cx="178.2" cy="316.2" r="5.30" fill="#68aea7"/>
<circle cx="194.8" cy="336.0" r="4.05" fill="#68aea7"/>
<circle cx="211.7" cy="310.3" r="5.65" fill="#68aea7"/>
<circle cx="228.2" cy="322.1" r="4.80" fill="#68aea7"/>
<circle cx="244.8" cy="332.2" r="4.55" fill="#68aea7"/>
<circle cx="261.1" cy="336.8" r="3.80" fill="#68aea7"/>
<circle cx="277.7" cy="340.7" r="3.80" fill="#68aea7"/>
<circle cx="294.2" cy="347.7" r="2.80" fill="#68aea7"/>
<circle cx="310.8" cy="353.4" r="2.05" fill="#68aea7"/>
<circle cx="327.4" cy="325.5" r="4.90" fill="#68aea7"/>
<circle cx="344.0" cy="353.0" r="2.05" fill="#68aea7"/>
<circle cx="360.6" cy="341.4" r="3.50" fill="#68aea7"/>
<rect x="40.0" y="379.8" width="11.00" height="36.90" fill="#eec14e"/>
<rect x="40.0" y="379.8" width="11.00" height="36.90" fill="url(#py)"/>
<text transform="translate(48.10,378.80) rotate(-90) scale(0.86,1)" font-size="7.6" fill="#ebc060" stroke="#ebc060" stroke-width="0.04">775</text>
<rect x="59.0" y="399.8" width="5.10" height="16.90" fill="#eec14e"/>
<rect x="59.0" y="399.8" width="5.10" height="16.90" fill="url(#py)"/>
<text transform="translate(64.15,398.80) rotate(-90) scale(0.86,1)" font-size="7.6" fill="#ebc060" stroke="#ebc060" stroke-width="0.04">341</text>
<rect x="75.8" y="401.8" width="5.30" height="14.90" fill="#eec14e"/>
<rect x="75.8" y="401.8" width="5.30" height="14.90" fill="url(#py)"/>
<text transform="translate(81.05,400.80) rotate(-90) scale(0.86,1)" font-size="7.6" fill="#ebc060" stroke="#ebc060" stroke-width="0.04">317</text>
<rect x="91.1" y="392.8" width="7.90" height="23.90" fill="#eec14e"/>
<rect x="91.1" y="392.8" width="7.90" height="23.90" fill="url(#py)"/>
<text transform="translate(97.65,391.80) rotate(-90) scale(0.86,1)" font-size="7.6" fill="#ebc060" stroke="#ebc060" stroke-width="0.04">493</text>
<rect x="109.0" y="405.0" width="5.10" height="11.70" fill="#eec14e"/>
<rect x="109.0" y="405.0" width="5.10" height="11.70" fill="url(#py)"/>
<text transform="translate(114.15,404.00) rotate(-90) scale(0.86,1)" font-size="7.6" fill="#ebc060" stroke="#ebc060" stroke-width="0.04">269</text>
<rect x="124.1" y="390.1" width="9.00" height="26.60" fill="#eec14e"/>
<rect x="124.1" y="390.1" width="9.00" height="26.60" fill="url(#py)"/>
<text transform="translate(131.20,389.10) rotate(-90) scale(0.86,1)" font-size="7.6" fill="#ebc060" stroke="#ebc060" stroke-width="0.04">570</text>
<rect x="141.3" y="394.8" width="6.70" height="21.90" fill="#eec14e"/>
<rect x="141.3" y="394.8" width="6.70" height="21.90" fill="url(#py)"/>
<text transform="translate(147.25,393.80) rotate(-90) scale(0.86,1)" font-size="7.6" fill="#ebc060" stroke="#ebc060" stroke-width="0.04">321</text>
<rect x="157.9" y="395.6" width="7.00" height="21.10" fill="#eec14e"/>
<rect x="157.9" y="395.6" width="7.00" height="21.10" fill="url(#py)"/>
<text transform="translate(164.00,394.60) rotate(-90) scale(0.86,1)" font-size="7.6" fill="#ebc060" stroke="#ebc060" stroke-width="0.04">393</text>
<rect x="170.8" y="372.0" width="14.10" height="44.70" fill="#eec14e"/>
<rect x="170.8" y="372.0" width="14.10" height="44.70" fill="url(#py)"/>
<text transform="translate(180.45,371.00) rotate(-90) scale(0.86,1)" font-size="7.6" fill="#ebc060" stroke="#ebc060" stroke-width="0.04">655</text>
<rect x="192.1" y="398.8" width="5.90" height="17.90" fill="#eec14e"/>
<rect x="192.1" y="398.8" width="5.90" height="17.90" fill="url(#py)"/>
<text transform="translate(197.65,397.80) rotate(-90) scale(0.86,1)" font-size="7.6" fill="#ebc060" stroke="#ebc060" stroke-width="0.04">252</text>
<rect x="209.0" y="400.6" width="5.30" height="16.10" fill="#eec14e"/>
<rect x="209.0" y="400.6" width="5.30" height="16.10" fill="url(#py)"/>
<text transform="translate(214.25,399.60) rotate(-90) scale(0.86,1)" font-size="7.6" fill="#ebc060" stroke="#ebc060" stroke-width="0.04">235</text>
<rect x="225.6" y="406.8" width="4.80" height="9.90" fill="#eec14e"/>
<rect x="225.6" y="406.8" width="4.80" height="9.90" fill="url(#py)"/>
<text transform="translate(230.60,405.80) rotate(-90) scale(0.86,1)" font-size="7.6" fill="#ebc060" stroke="#ebc060" stroke-width="0.04">148</text>
<rect x="240.9" y="397.4" width="7.50" height="19.30" fill="#eec14e"/>
<rect x="240.9" y="397.4" width="7.50" height="19.30" fill="url(#py)"/>
<text transform="translate(247.25,396.40) rotate(-90) scale(0.86,1)" font-size="7.6" fill="#ebc060" stroke="#ebc060" stroke-width="0.04">139</text>
<rect x="258.9" y="401.7" width="5.30" height="15.00" fill="#eec14e"/>
<rect x="258.9" y="401.7" width="5.30" height="15.00" fill="url(#py)"/>
<text transform="translate(264.15,400.70) rotate(-90) scale(0.86,1)" font-size="7.6" fill="#ebc060" stroke="#ebc060" stroke-width="0.04">111</text>
<rect x="274.1" y="393.9" width="7.10" height="22.80" fill="#eec14e"/>
<rect x="274.1" y="393.9" width="7.10" height="22.80" fill="url(#py)"/>
<text transform="translate(280.25,392.90) rotate(-90) scale(0.86,1)" font-size="7.6" fill="#ebc060" stroke="#ebc060" stroke-width="0.04">169</text>
<rect x="290.0" y="391.1" width="9.50" height="25.60" fill="#eec14e"/>
<rect x="290.0" y="391.1" width="9.50" height="25.60" fill="url(#py)"/>
<text transform="translate(297.35,390.10) rotate(-90) scale(0.86,1)" font-size="7.6" fill="#ebc060" stroke="#ebc060" stroke-width="0.04">192</text>
<rect x="306.6" y="392.8" width="8.80" height="23.90" fill="#eec14e"/>
<rect x="306.6" y="392.8" width="8.80" height="23.90" fill="url(#py)"/>
<text transform="translate(313.60,391.80) rotate(-90) scale(0.86,1)" font-size="7.6" fill="#ebc060" stroke="#ebc060" stroke-width="0.04">179</text>
<rect x="326.0" y="411.2" width="3.50" height="5.50" fill="#eec14e"/>
<rect x="326.0" y="411.2" width="3.50" height="5.50" fill="url(#py)"/>
<text transform="translate(330.35,410.20) rotate(-90) scale(0.86,1)" font-size="7.6" fill="#ebc060" stroke="#ebc060" stroke-width="0.04">40</text>
<rect x="342.6" y="409.8" width="3.50" height="6.90" fill="#eec14e"/>
<rect x="342.6" y="409.8" width="3.50" height="6.90" fill="url(#py)"/>
<text transform="translate(346.95,408.80) rotate(-90) scale(0.86,1)" font-size="7.6" fill="#ebc060" stroke="#ebc060" stroke-width="0.04">46</text>
<rect x="358.8" y="402.4" width="4.30" height="14.30" fill="#eec14e"/>
<rect x="358.8" y="402.4" width="4.30" height="14.30" fill="url(#py)"/>
<text transform="translate(363.55,401.40) rotate(-90) scale(0.86,1)" font-size="7.6" fill="#ebc060" stroke="#ebc060" stroke-width="0.04">117</text>
<line x1="37.6" y1="447.5" x2="135.9" y2="447.5" stroke="#ebe8c6" stroke-width="0.7"/>
<line x1="137.4" y1="450.4" x2="235.9" y2="450.4" stroke="#f2cc90" stroke-width="0.7" stroke-dasharray="3,1"/>
<line x1="237.4" y1="449.3" x2="367.9" y2="449.3" stroke="#f2cc90" stroke-width="0.7" stroke-dasharray="3,1"/>
<rect x="41.90" y="432.80" width="7" height="7" fill="#eec14e"/><rect x="41.90" y="432.80" width="7" height="7" fill="url(#py)"/>
<rect x="58.95" y="451.05" width="5.9" height="5.9" fill="#eec14e"/><rect x="58.95" y="451.05" width="5.9" height="5.9" fill="url(#py)"/>
<rect x="75.85" y="451.85" width="5.3" height="5.3" fill="#eec14e"/><rect x="75.85" y="451.85" width="5.3" height="5.3" fill="url(#py)"/>
<rect x="91.90" y="436.60" width="6.4" height="6.4" fill="#eec14e"/><rect x="91.90" y="436.60" width="6.4" height="6.4" fill="url(#py)"/>
<rect x="109.05" y="453.75" width="5.3" height="5.3" fill="#eec14e"/><rect x="109.05" y="453.75" width="5.3" height="5.3" fill="url(#py)"/>
<rect x="124.70" y="439.00" width="7" height="7" fill="#eec14e"/><rect x="124.70" y="439.00" width="7" height="7" fill="url(#py)"/>
<rect x="141.60" y="447.50" width="6.4" height="6.4" fill="#eec14e"/><rect x="141.60" y="447.50" width="6.4" height="6.4" fill="url(#py)"/>
<rect x="158.95" y="445.15" width="5.9" height="5.9" fill="#eec14e"/><rect x="158.95" y="445.15" width="5.9" height="5.9" fill="url(#py)"/>
<rect x="174.00" y="419.20" width="8" height="8" fill="#eec14e"/><rect x="174.00" y="419.20" width="8" height="8" fill="url(#py)"/>
<rect x="191.60" y="446.70" width="6.4" height="6.4" fill="#eec14e"/><rect x="191.60" y="446.70" width="6.4" height="6.4" fill="url(#py)"/>
<rect x="209.05" y="448.65" width="5.3" height="5.3" fill="#eec14e"/><rect x="209.05" y="448.65" width="5.3" height="5.3" fill="url(#py)"/>
<rect x="225.25" y="451.85" width="5.9" height="5.9" fill="#eec14e"/><rect x="225.25" y="451.85" width="5.9" height="5.9" fill="url(#py)"/>
<rect x="242.00" y="451.70" width="5" height="5" fill="#eec14e"/><rect x="242.00" y="451.70" width="5" height="5" fill="url(#py)"/>
<rect x="258.90" y="450.00" width="5" height="5" fill="#eec14e"/><rect x="258.90" y="450.00" width="5" height="5" fill="url(#py)"/>
<rect x="274.80" y="439.80" width="6.4" height="6.4" fill="#eec14e"/><rect x="274.80" y="439.80" width="6.4" height="6.4" fill="url(#py)"/>
<rect x="291.10" y="432.00" width="7" height="7" fill="#eec14e"/><rect x="291.10" y="432.00" width="7" height="7" fill="url(#py)"/>
<rect x="307.70" y="433.50" width="7" height="7" fill="#eec14e"/><rect x="307.70" y="433.50" width="7" height="7" fill="url(#py)"/>
<rect x="325.70" y="460.30" width="4.2" height="4.2" fill="#eec14e"/><rect x="325.70" y="460.30" width="4.2" height="4.2" fill="url(#py)"/>
<rect x="341.90" y="460.30" width="4.2" height="4.2" fill="#eec14e"/><rect x="341.90" y="460.30" width="4.2" height="4.2" fill="url(#py)"/>
<rect x="357.40" y="444.00" width="6.4" height="6.4" fill="#eec14e"/><rect x="357.40" y="444.00" width="6.4" height="6.4" fill="url(#py)"/>
<text transform="translate(48.10,476.3) rotate(-90) scale(0.88,1)" font-size="8" text-anchor="end" class="tx">mincu.pe</text>
<text transform="translate(64.70,476.3) rotate(-90) scale(0.88,1)" font-size="8" text-anchor="end" class="tx">ministeriodedefe.</text>
<text transform="translate(81.30,476.3) rotate(-90) scale(0.88,1)" font-size="8" text-anchor="end" class="tx">MTCPeru</text>
<text transform="translate(97.90,476.3) rotate(-90) scale(0.88,1)" font-size="8" text-anchor="end" class="tx">minproduccion</text>
<text transform="translate(114.50,476.3) rotate(-90) scale(0.88,1)" font-size="8" text-anchor="end" class="tx">minedupeu</text>
<text transform="translate(131.10,476.3) rotate(-90) scale(0.88,1)" font-size="8" text-anchor="end" class="tx">minsaperu</text>
<text transform="translate(147.70,476.3) rotate(-90) scale(0.88,1)" font-size="8" text-anchor="end" class="tx">MinjusPeru</text>
<text transform="translate(164.30,476.3) rotate(-90) scale(0.88,1)" font-size="8" text-anchor="end" class="tx">ViviendaPeru</text>
<text transform="translate(180.90,476.3) rotate(-90) scale(0.88,1)" font-size="8" text-anchor="end" class="tx">MinamPeru</text>
<text transform="translate(197.50,476.3) rotate(-90) scale(0.88,1)" font-size="8" text-anchor="end" class="tx">midagriperu</text>
<text transform="translate(214.10,476.3) rotate(-90) scale(0.88,1)" font-size="8" text-anchor="end" class="tx">MinsaPeru</text>
<text transform="translate(230.70,476.3) rotate(-90) scale(0.88,1)" font-size="8" text-anchor="end" class="tx">PeruMEF</text>
<text transform="translate(247.30,476.3) rotate(-90) scale(0.88,1)" font-size="8" text-anchor="end" class="tx">MinemPeru</text>
<text transform="translate(263.90,476.3) rotate(-90) scale(0.88,1)" font-size="8" text-anchor="end" class="tx">CancilleriaPeru</text>
<text transform="translate(280.50,476.3) rotate(-90) scale(0.88,1)" font-size="8" text-anchor="end" class="tx">PCMPERU</text>
<text transform="translate(297.10,476.3) rotate(-90) scale(0.88,1)" font-size="8" text-anchor="end" class="tx">MidisPeru</text>
<text transform="translate(313.70,476.3) rotate(-90) scale(0.88,1)" font-size="8" text-anchor="end" class="tx">MININTERPER..</text>
<text transform="translate(330.30,476.3) rotate(-90) scale(0.88,1)" font-size="8" text-anchor="end" class="tx">minmujerperu</text>
<text transform="translate(346.90,476.3) rotate(-90) scale(0.88,1)" font-size="8" text-anchor="end" class="tx">PresidenciaPeru</text>
<text transform="translate(363.50,476.3) rotate(-90) scale(0.88,1)" font-size="8" text-anchor="end" class="tx">MTPEPERU</text>
</svg>
</body></html>
